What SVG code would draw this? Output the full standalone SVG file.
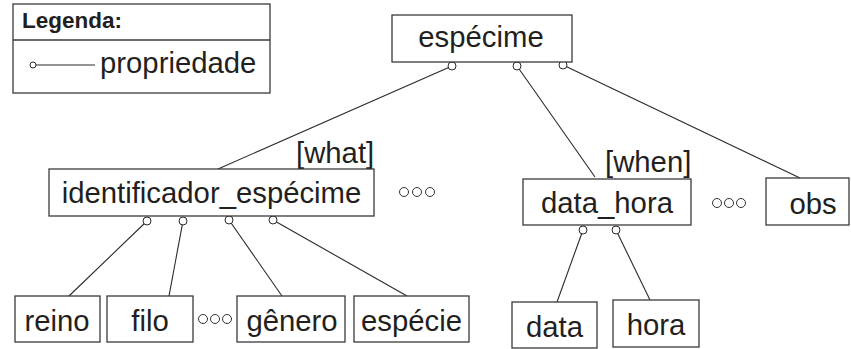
<svg xmlns="http://www.w3.org/2000/svg" width="851" height="349" viewBox="0 0 851 349">
<style>
.box{fill:#fff;stroke:#3a3a3a;stroke-width:1.3}
.lbl{font-family:"Liberation Sans",Arial,sans-serif;font-size:29.3px;fill:#231f20}
.mid{text-anchor:middle}
.ln{stroke:#2a2a2a;stroke-width:1.1;fill:none}
.dot{fill:#fff;stroke:#2a2a2a;stroke-width:1}
.ell{fill:#fff;stroke:#333;stroke-width:1}
</style>
<rect width="851" height="349" fill="#fff"/>
<g id="legenda">
<rect class="box" x="13" y="4" width="257" height="89"/>
<line class="box" x1="13" y1="40" x2="270" y2="40"/>
<text x="22" y="28" style="font-family:'Liberation Sans',Arial,sans-serif;font-size:22.5px;font-weight:bold;fill:#231f20">Legenda:</text>
<line class="ln" x1="36" y1="65" x2="95" y2="65"/>
<circle class="dot" cx="33" cy="65" r="3"/>
<text class="lbl" x="100" y="73">propriedade</text>
</g>
<g id="connectors">
<line class="ln" x1="452" y1="66" x2="218" y2="169"/>
<line class="ln" x1="517" y1="66" x2="595" y2="177"/>
<line class="ln" x1="563" y1="65" x2="800" y2="178"/>
<line class="ln" x1="147" y1="221" x2="69" y2="296"/>
<line class="ln" x1="183" y1="221" x2="169" y2="296"/>
<line class="ln" x1="229" y1="220" x2="282" y2="296"/>
<line class="ln" x1="273" y1="220" x2="407" y2="296"/>
<line class="ln" x1="583" y1="230" x2="557" y2="302"/>
<line class="ln" x1="616" y1="230" x2="650" y2="300"/>
<circle class="dot" cx="452" cy="66" r="4"/>
<circle class="dot" cx="517" cy="66" r="4"/>
<circle class="dot" cx="563" cy="65" r="4"/>
<circle class="dot" cx="147" cy="221" r="4"/>
<circle class="dot" cx="183" cy="221" r="4"/>
<circle class="dot" cx="229" cy="220" r="4"/>
<circle class="dot" cx="273" cy="220" r="4"/>
<circle class="dot" cx="583" cy="230" r="4"/>
<circle class="dot" cx="616" cy="230" r="4"/>
<text class="lbl" x="296" y="163">[what]</text>
<text class="lbl" x="605" y="172">[when]</text>
</g>
<g id="especime">
<rect class="box" x="392" y="15" width="180" height="47"/>
<text class="lbl mid" x="481" y="47">espécime</text>
</g>
<g id="identificador_especime">
<rect class="box" x="49" y="169" width="325" height="47"/>
<text class="lbl mid" x="211.5" y="203">identificador_espécime</text>
</g>
<g id="ellipsis1">
<circle class="ell" cx="404" cy="192" r="4.5"/>
<circle class="ell" cx="417" cy="192" r="4.5"/>
<circle class="ell" cx="430" cy="192" r="4.5"/>
</g>
<g id="data_hora">
<rect class="box" x="523" y="179" width="168" height="46"/>
<text class="lbl mid" x="607" y="213">data_hora</text>
</g>
<g id="ellipsis2">
<circle class="ell" cx="717" cy="203" r="4.5"/>
<circle class="ell" cx="729" cy="203" r="4.5"/>
<circle class="ell" cx="741" cy="203" r="4.5"/>
</g>
<g id="obs">
<rect class="box" x="766" y="178" width="83" height="47"/>
<text class="lbl mid" x="813" y="214">obs</text>
</g>
<g id="reino">
<rect class="box" x="15" y="296" width="85" height="46"/>
<text class="lbl mid" x="57" y="331">reino</text>
</g>
<g id="filo">
<rect class="box" x="107" y="296" width="86" height="46"/>
<text class="lbl mid" x="150" y="331">filo</text>
</g>
<g id="ellipsis3">
<circle class="ell" cx="203" cy="319" r="4.5"/>
<circle class="ell" cx="215" cy="319" r="4.5"/>
<circle class="ell" cx="227" cy="319" r="4.5"/>
</g>
<g id="genero">
<rect class="box" x="237" y="296" width="108" height="46"/>
<text class="lbl mid" x="292" y="331">gênero</text>
</g>
<g id="especie">
<rect class="box" x="354" y="296" width="115" height="46"/>
<text class="lbl mid" x="411.5" y="331">espécie</text>
</g>
<g id="data">
<rect class="box" x="512" y="302" width="85" height="46"/>
<text class="lbl mid" x="554.5" y="337">data</text>
</g>
<g id="hora">
<rect class="box" x="613" y="300" width="86" height="47"/>
<text class="lbl mid" x="656" y="335">hora</text>
</g>
</svg>
